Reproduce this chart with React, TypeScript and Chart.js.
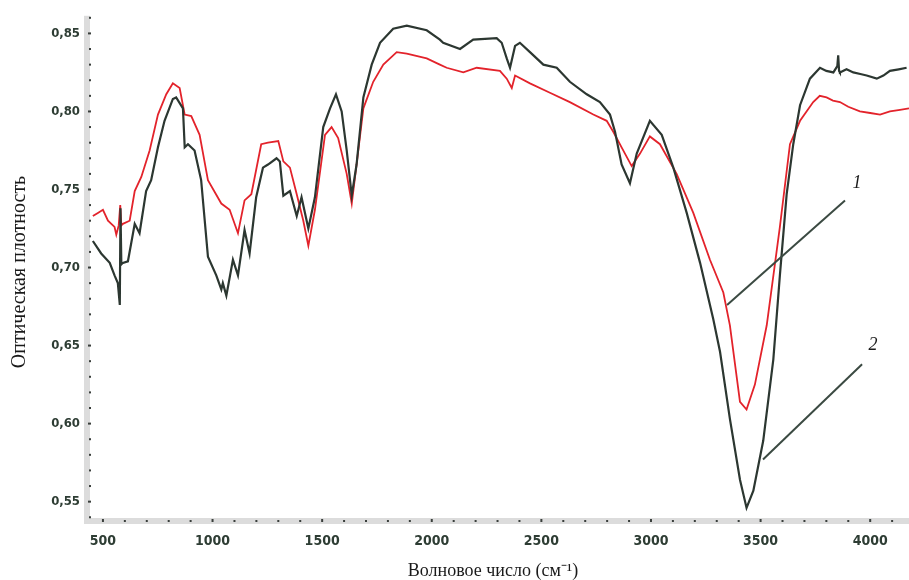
import React, { useEffect, useRef } from "react";
import { Chart, registerables } from "chart.js";

Chart.register(...registerables);

// Curve 2 (dark)
const WN_DARK = [454, 492, 531, 553, 568, 577, 580, 584, 591, 614, 645, 667, 697, 720, 751, 781, 819, 834, 865, 873, 888, 918, 948, 979, 1017, 1040, 1047, 1063, 1093, 1116, 1146, 1169, 1199, 1230, 1253, 1292, 1307, 1323, 1353, 1384, 1406, 1437, 1467, 1505, 1536, 1563, 1589, 1612, 1635, 1657, 1688, 1726, 1764, 1824, 1886, 1977, 2037, 2052, 2129, 2189, 2296, 2319, 2342, 2357, 2380, 2402, 2448, 2509, 2570, 2630, 2707, 2767, 2813, 2836, 2866, 2904, 2935, 2995, 3049, 3102, 3163, 3224, 3284, 3315, 3360, 3406, 3436, 3467, 3512, 3558, 3588, 3619, 3649, 3680, 3725, 3771, 3800, 3832, 3850, 3854, 3858, 3862, 3892, 3923, 3955, 3984, 4030, 4060, 4090, 4130, 4166];
const OD_DARK = [0.717, 0.709, 0.703, 0.695, 0.690, 0.676, 0.738, 0.702, 0.703, 0.704, 0.728, 0.722, 0.749, 0.756, 0.777, 0.794, 0.808, 0.809, 0.802, 0.777, 0.779, 0.775, 0.756, 0.707, 0.695, 0.686, 0.690, 0.682, 0.705, 0.695, 0.724, 0.709, 0.745, 0.764, 0.766, 0.770, 0.768, 0.746, 0.749, 0.733, 0.745, 0.725, 0.745, 0.790, 0.802, 0.811, 0.800, 0.775, 0.746, 0.766, 0.809, 0.830, 0.844, 0.853, 0.855, 0.852, 0.846, 0.844, 0.840, 0.846, 0.847, 0.844, 0.834, 0.828, 0.842, 0.844, 0.838, 0.830, 0.828, 0.819, 0.811, 0.806, 0.798, 0.787, 0.766, 0.754, 0.773, 0.794, 0.785, 0.764, 0.735, 0.703, 0.667, 0.646, 0.603, 0.564, 0.546, 0.557, 0.589, 0.641, 0.695, 0.747, 0.779, 0.804, 0.821, 0.828, 0.826, 0.825, 0.829, 0.836, 0.826, 0.825, 0.827, 0.825, 0.824, 0.823, 0.821, 0.823, 0.826, 0.827, 0.828];

// Curve 1 (red)
const WN_RED = [454, 477, 500, 523, 553, 561, 572, 579, 584, 591, 622, 645, 675, 713, 751, 789, 819, 850, 873, 903, 941, 979, 1040, 1078, 1116, 1146, 1177, 1222, 1253, 1300, 1323, 1353, 1384, 1414, 1437, 1467, 1513, 1543, 1573, 1612, 1635, 1657, 1688, 1733, 1779, 1840, 1886, 1977, 2037, 2068, 2144, 2205, 2311, 2342, 2365, 2380, 2448, 2539, 2630, 2737, 2798, 2828, 2866, 2912, 2950, 2995, 3041, 3117, 3193, 3269, 3330, 3360, 3406, 3436, 3474, 3528, 3588, 3634, 3680, 3740, 3770, 3801, 3830, 3862, 3900, 3953, 4000, 4045, 4090, 4136, 4177];
const OD_RED = [0.733, 0.735, 0.737, 0.730, 0.726, 0.721, 0.727, 0.740, 0.727, 0.728, 0.730, 0.749, 0.758, 0.775, 0.798, 0.811, 0.818, 0.815, 0.798, 0.797, 0.785, 0.756, 0.741, 0.737, 0.722, 0.743, 0.747, 0.779, 0.780, 0.781, 0.768, 0.764, 0.747, 0.730, 0.714, 0.737, 0.785, 0.790, 0.783, 0.760, 0.741, 0.766, 0.802, 0.819, 0.830, 0.838, 0.837, 0.834, 0.830, 0.828, 0.825, 0.828, 0.826, 0.821, 0.815, 0.823, 0.818, 0.812, 0.806, 0.798, 0.794, 0.787, 0.777, 0.765, 0.773, 0.784, 0.779, 0.760, 0.735, 0.705, 0.684, 0.663, 0.614, 0.609, 0.625, 0.663, 0.726, 0.779, 0.794, 0.806, 0.810, 0.809, 0.807, 0.806, 0.803, 0.800, 0.799, 0.798, 0.800, 0.801, 0.802];

const X_TICKS = [500, 1000, 1500, 2000, 2500, 3000, 3500, 4000];
const Y_TICKS = [0.55, 0.6, 0.65, 0.7, 0.75, 0.8, 0.85];
const X_MINOR_STEP = 100;

// Leader lines (wavenumber, optical density) and their labels
const LEADER_1 = [[3347, 0.676], [3885, 0.743]];
const LEADER_2 = [[3511, 0.577], [3963, 0.638]];
const LABEL_1 = { text: "1", x: 3940, y: 0.754 };
const LABEL_2 = { text: "2", x: 4013, y: 0.650 };

const X_TITLE = "Волновое число (см⁻¹)";
const Y_TITLE = "Оптическая плотность";

const X_MIN = 441;
const X_MAX = 4177;
const Y_MIN = 0.5376;
const Y_MAX = 0.86;

export default function App() {
  const ref = useRef<HTMLCanvasElement | null>(null);

  useEffect(() => {
    if (!ref.current) return;
    const decor = {
      id: "decor",
      beforeDatasetsDraw(chart: any) {
        const { ctx, chartArea } = chart;
        const xs = chart.scales.x;
        const ys = chart.scales.y;
        ctx.save();
        ctx.fillStyle = "#dcdcdc";
        ctx.fillRect(chartArea.left - 6, chartArea.top - 2, 6, chartArea.bottom - chartArea.top + 5);
        ctx.fillRect(chartArea.left - 6, chartArea.bottom - 3, chartArea.right - chartArea.left + 6, 6);
        ctx.fillStyle = "#3a3f3c";
        for (let v = 500; v <= X_MAX; v += X_MINOR_STEP) {
          const px = xs.getPixelForValue(v);
          const major = v % 500 === 0;
          if (major) ctx.fillRect(px - 1, chartArea.bottom - 2, 2, 3);
          else ctx.fillRect(px - 1, chartArea.bottom - 1, 2, 2);
        }
        for (let i = 54; i <= 86; i++) {
          const v = i / 100;
          const py = ys.getPixelForValue(v);
          const major = i % 5 === 0;
          if (major) ctx.fillRect(chartArea.left - 2, py - 1, 3, 2);
          else ctx.fillRect(chartArea.left - 1, py - 1, 2, 2);
        }
        ctx.restore();
      },
      afterDatasetsDraw(chart: any) {
        const { ctx } = chart;
        const xs = chart.scales.x;
        const ys = chart.scales.y;
        ctx.save();
        ctx.strokeStyle = "#3b4a42";
        ctx.lineWidth = 2;
        for (const seg of [LEADER_1, LEADER_2]) {
          ctx.beginPath();
          ctx.moveTo(xs.getPixelForValue(seg[0][0]), ys.getPixelForValue(seg[0][1]));
          ctx.lineTo(xs.getPixelForValue(seg[1][0]), ys.getPixelForValue(seg[1][1]));
          ctx.stroke();
        }
        ctx.fillStyle = "#1a1a1a";
        ctx.font = "italic 18px 'Liberation Serif'";
        ctx.textAlign = "center";
        ctx.textBaseline = "middle";
        for (const l of [LABEL_1, LABEL_2]) {
          ctx.fillText(l.text, xs.getPixelForValue(l.x), ys.getPixelForValue(l.y));
        }
        ctx.restore();
      },
      afterDraw(chart: any) {
        const { ctx } = chart;
        ctx.save();
        ctx.fillStyle = "#1a1a1a";
        ctx.font = "18px 'Liberation Serif'";
        ctx.textAlign = "center";
        ctx.textBaseline = "middle";
        ctx.fillText(X_TITLE, 493, 571);
        ctx.translate(20, 272);
        ctx.rotate(-Math.PI / 2);
        ctx.font = "20px 'Liberation Serif'";
        ctx.fillText(Y_TITLE, 0, 0);
        ctx.restore();
      },
    };

    const chart = new Chart(ref.current, {
      type: "line",
      data: {
        datasets: [
          {
            label: "2",
            data: WN_DARK.map((x, i) => ({ x, y: OD_DARK[i] })),
            borderColor: "#2c3731",
            borderWidth: 2.2,
            pointRadius: 0,
            tension: 0,
          },
          {
            label: "1",
            data: WN_RED.map((x, i) => ({ x, y: OD_RED[i] })),
            borderColor: "#e3232b",
            borderWidth: 1.8,
            pointRadius: 0,
            tension: 0,
          },
        ],
      },
      options: {
        animation: false,
        responsive: false,
        maintainAspectRatio: false,
        layout: { padding: { top: 12, right: 0, left: 0, bottom: 0 } },
        plugins: { legend: { display: false }, tooltip: { enabled: false } },
        scales: {
          x: {
            type: "linear",
            min: X_MIN,
            max: X_MAX,
            grid: { display: false, drawTicks: false },
            border: { display: false },
            afterBuildTicks: (s: any) => {
              s.ticks = X_TICKS.map((v) => ({ value: v }));
            },
            afterFit: (s: any) => {
              s.height = 59;
            },
            ticks: {
              padding: 12,
              maxRotation: 0,
              autoSkip: false,
              color: "#2e3d34",
              font: { family: "'DejaVu Sans Condensed'", weight: "bold", size: 14 },
              callback: (v: any) => String(v),
            },
          },
          y: {
            type: "linear",
            min: Y_MIN,
            max: Y_MAX,
            grid: { display: false, drawTicks: false },
            border: { display: false },
            afterBuildTicks: (s: any) => {
              s.ticks = Y_TICKS.map((v) => ({ value: v }));
            },
            afterFit: (s: any) => {
              s.width = 90;
            },
            ticks: {
              padding: 10,
              autoSkip: false,
              color: "#2e3d34",
              font: { family: "'DejaVu Sans Condensed'", weight: "bold", size: 13 },
              callback: (v: any) => Number(v).toFixed(2).replace(".", ","),
            },
          },
        },
      },
      plugins: [decor],
    });
    return () => chart.destroy();
  }, []);

  return (
    <div style={{ position: "fixed", left: 0, top: 0, width: 909, height: 580, background: "#fff" }}>
      <canvas ref={ref} width={909} height={580} style={{ display: "block" }} />
    </div>
  );
}
